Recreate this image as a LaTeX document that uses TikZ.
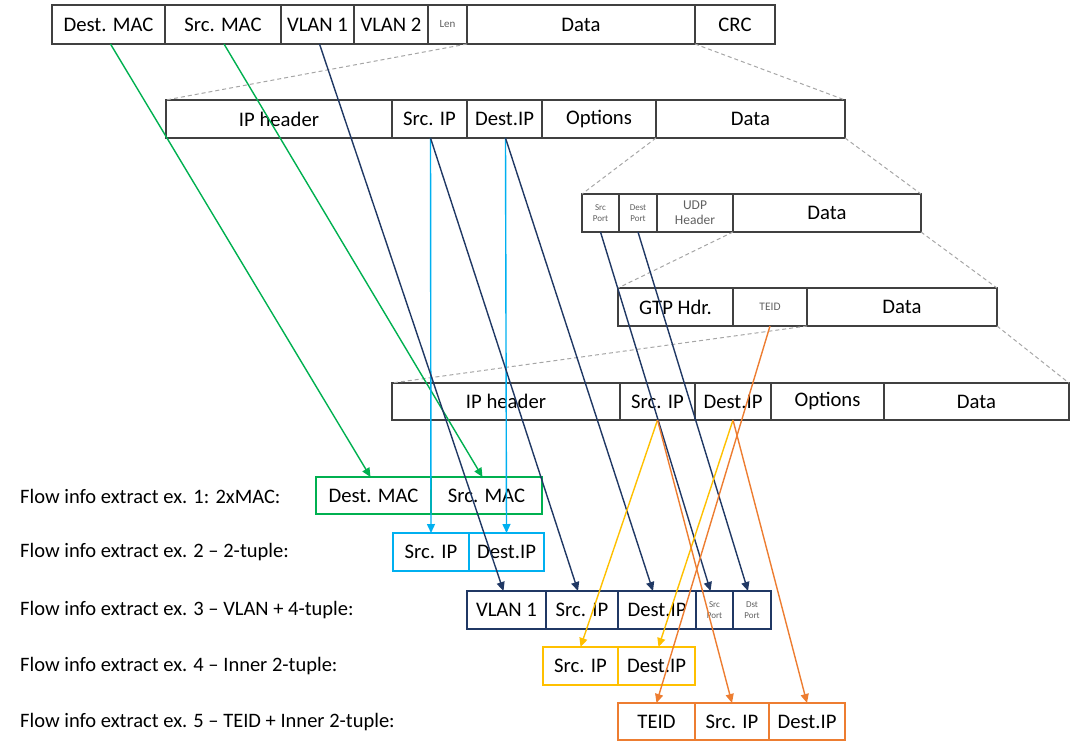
\documentclass[tikz,border=0pt]{standalone}
\usepackage{fontspec}
\setmainfont{Carlito}
\usetikzlibrary{arrows.meta}
\definecolor{cgreen}{HTML}{00B050}
\definecolor{ccyan}{HTML}{00B0F0}
\definecolor{cnavy}{HTML}{203864}
\definecolor{cyel}{HTML}{FFC000}
\definecolor{corange}{HTML}{ED7D31}
\definecolor{boxc}{HTML}{404040}
\definecolor{dashc}{HTML}{A6A6A6}
\definecolor{smallc}{HTML}{606060}
\begin{document}
\begin{tikzpicture}[x=1pt,y=-1pt,
  fld/.style={draw=boxc, line width=1.5pt, inner sep=0pt, outer sep=0pt, anchor=west,
              font=\fontsize{20.7}{23}\selectfont, text=black},
  tiny/.style={font=\fontsize{9}{10.5}\selectfont, text=smallc, align=center},
  lbl/.style={anchor=west, inner sep=0pt, font=\fontsize{20.5}{23}\selectfont},
  arr/.style={line width=1.4pt, -{Triangle[length=9pt,width=8pt]}},
  zoomln/.style={dashc, line width=1pt, dashed, dash pattern=on 4pt off 3pt}]
\useasboundingbox (0,0) rectangle (1079,741);

% Row 1: Ethernet frame
\node[fld,minimum height=39pt,minimum width=113pt,line width=2pt] (e1) at (52,24.5) {Dest. MAC};
\node[fld,minimum height=39pt,minimum width=116pt] (e2) at (165,24.5) {Src. MAC};
\node[fld,minimum height=39pt,minimum width=73pt] (e3) at (281,24.5) {VLAN 1};
\node[fld,minimum height=39pt,minimum width=74pt] (e4) at (354,24.5) {VLAN 2};
\node[fld,minimum height=39pt,minimum width=39pt,font=\fontsize{11}{13}\selectfont,text=smallc] (e5) at (428,24.5) {Len};
\node[fld,minimum height=39pt,minimum width=228pt] (e6) at (467,24.5) {Data};
\node[fld,minimum height=39pt,minimum width=80pt] (e7) at (695,24.5) {CRC};

% Row 2: IP header
\node[fld,minimum height=38pt,minimum width=226pt] (i1) at (166,119) {IP header};
\node[fld,minimum height=38pt,minimum width=75pt] (i2) at (392,119) {Src. IP};
\node[fld,minimum height=38pt,minimum width=75pt] (i3) at (467,119) {Dest.IP};
\node[fld,minimum height=38pt,minimum width=114pt] (i4) at (542,119) {Options};
\node[fld,minimum height=38pt,minimum width=189pt] (i5) at (656,119) {Data};

% Row 3: UDP
\node[fld,minimum height=38pt,minimum width=37pt,tiny] (u1) at (582,213) {Src\\Port};
\node[fld,minimum height=38pt,minimum width=38pt,tiny] (u2) at (619,213) {Dest\\Port};
\node[fld,minimum height=38pt,minimum width=76pt,align=center,font=\fontsize{13.5}{15}\selectfont,text=smallc] (u3) at (657,213) {UDP\\Header};
\node[fld,minimum height=38pt,minimum width=188pt] (u4) at (733,213) {Data};

% Row 4: GTP
\node[fld,minimum height=38pt,minimum width=115pt] (g1) at (618,307) {GTP Hdr.};
\node[fld,minimum height=38pt,minimum width=74pt,font=\fontsize{11.5}{13}\selectfont,text=smallc] (g2) at (733,307) {TEID};
\node[fld,minimum height=38pt,minimum width=190pt] (g3) at (807,307) {Data};

% Row 5: inner IP
\node[fld,minimum height=37pt,minimum width=228pt] (n1) at (392,401.5) {IP header};
\node[fld,minimum height=37pt,minimum width=75pt] (n2) at (620,401.5) {Src. IP};
\node[fld,minimum height=37pt,minimum width=76pt] (n3) at (695,401.5) {Dest.IP};
\node[fld,minimum height=37pt,minimum width=113pt] (n4) at (771,401.5) {Options};
\node[fld,minimum height=37pt,minimum width=185pt] (n5) at (884,401.5) {Data};

% Zoom (dashed) lines
\draw[zoomln] (e5.south east) -- (i1.north west);
\draw[zoomln] (e6.south east) -- (i5.north east);
\draw[zoomln] (i5.south west) -- (u1.north west);
\draw[zoomln] (i5.south east) -- (u4.north east);
\draw[zoomln] (u4.south west) -- (g1.north west);
\draw[zoomln] (u4.south east) -- (g3.north east);
\draw[zoomln] (g3.south west) -- (n1.north west);
\draw[zoomln] (g3.south east) -- (n5.north east);

% Labels
\node[lbl] (l1) at (20,496) {Flow info extract ex. 1: 2xMAC:};
\node[lbl] (l2) at (20,552) {Flow info extract ex. 2 – 2-tuple:};
\node[lbl] (l3) at (20,610) {Flow info extract ex. 3 – VLAN + 4-tuple:};
\node[lbl] (l4) at (20,666) {Flow info extract ex. 4 – Inner 2-tuple:};
\node[lbl] (l5) at (20,722) {Flow info extract ex. 5 – TEID + Inner 2-tuple:};

% Ex 1
\node[fld,draw=cgreen,minimum height=37pt,minimum width=115pt] (a1) at (316,495.5) {Dest. MAC};
\node[fld,draw=cgreen,minimum height=37pt,minimum width=111pt] (a2) at (431,495.5) {Src. MAC};
% Ex 2
\node[fld,draw=ccyan,minimum height=38pt,minimum width=76pt] (b1) at (393,552) {Src. IP};
\node[fld,draw=ccyan,minimum height=38pt,minimum width=75pt] (b2) at (469,552) {Dest.IP};
% Ex 3
\node[fld,draw=cnavy,minimum height=38pt,minimum width=79pt] (c1) at (467,610) {VLAN 1};
\node[fld,draw=cnavy,minimum height=38pt,minimum width=72pt] (c2) at (546,610) {Src. IP};
\node[fld,draw=cnavy,minimum height=38pt,minimum width=78pt] (c3) at (618,610) {Dest.IP};
\node[fld,draw=cnavy,minimum height=38pt,minimum width=37pt,tiny] (c4) at (696,610) {Src\\Port};
\node[fld,draw=cnavy,minimum height=38pt,minimum width=38pt,tiny] (c5) at (733,610) {Dst\\Port};
% Ex 4
\node[fld,draw=cyel,minimum height=38pt,minimum width=75pt] (d1) at (543,666) {Src. IP};
\node[fld,draw=cyel,minimum height=38pt,minimum width=77pt] (d2) at (618,666) {Dest.IP};
% Ex 5
\node[fld,draw=corange,minimum height=37pt,minimum width=77pt] (f1) at (618,721.5) {TEID};
\node[fld,draw=corange,minimum height=37pt,minimum width=74pt] (f2) at (695,721.5) {Src. IP};
\node[fld,draw=corange,minimum height=37pt,minimum width=76pt] (f3) at (769,721.5) {Dest.IP};

% Arrows
\draw[arr,cgreen] ([xshift=2pt]e1.south) -- ([xshift=-3pt]a1.north);
\draw[arr,cgreen] ([xshift=1pt]e2.south) -- ([xshift=-4pt]a2.north);
\draw[arr,ccyan] ([xshift=1pt]i2.south) -- (b1.north);
\draw[arr,ccyan] ([xshift=1pt]i3.south) -- (b2.north);
\draw[arr,cnavy] ([xshift=2pt]e3.south) -- ([xshift=-3pt]c1.north);
\draw[arr,cnavy] ([xshift=1pt]i2.south) -- ([xshift=-4pt]c2.north);
\draw[arr,cnavy] ([xshift=1pt]i3.south) -- ([xshift=-4pt]c3.north);
\draw[arr,cnavy] (u1.south) -- ([xshift=-4pt]c4.north);
\draw[arr,cnavy] (u2.south) -- ([xshift=-4pt]c5.north);
\draw[arr,cyel] (n2.south) -- (d1.north);
\draw[arr,cyel] (n3.south) -- ([xshift=2pt]d2.north);
\draw[arr,corange] (g2.south) -- (f1.north);
\draw[arr,corange] (n2.south) -- (f2.north);
\draw[arr,corange] (n3.south) -- (f3.north);
\end{tikzpicture}
\end{document}
